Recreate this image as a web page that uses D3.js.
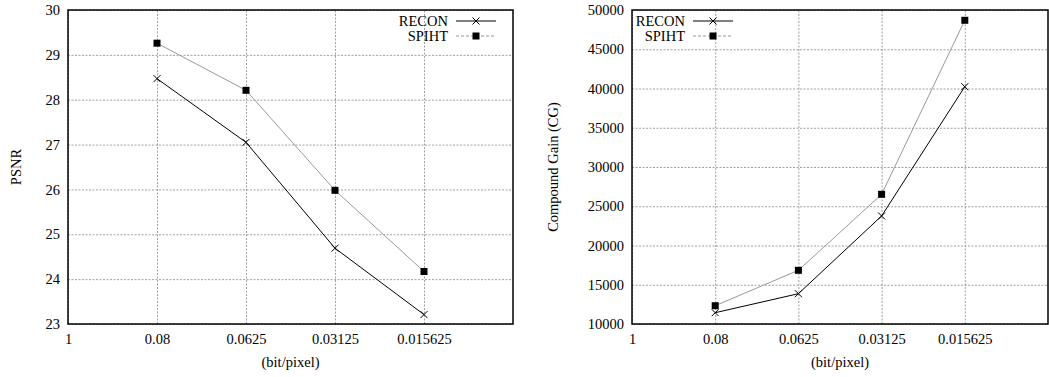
<!DOCTYPE html>
<html>
<head>
<meta charset="utf-8">
<script src="https://cdn.jsdelivr.net/npm/d3@7"></script>
<style>
  body { margin: 0; background: #fff; }
  svg text { font-family: "Liberation Serif", "Times New Roman", "DejaVu Serif", serif; font-size: 14.5px; fill: #000; }
</style>
</head>
<body>
<svg id="chart" width="1049" height="377"></svg>
<script>
// x categories (bit/pixel), first tick is just the axis start
var xLabels = ["1", "0.08", "0.0625", "0.03125", "0.015625"];
var dataIdx = [1, 2, 3, 4];

// PSNR
var psnrRecon = [28.47, 27.05, 24.69, 23.21];
var psnrSpiht = [29.26, 28.21, 25.98, 24.17];
var psnrTicks = [23, 24, 25, 26, 27, 28, 29, 30];

// compound gain
var cgRecon = [11440, 13860, 23760, 40230];
var cgSpiht = [12330, 16840, 26520, 48690];
var cgTicks = [10000, 15000, 20000, 25000, 30000, 35000, 40000, 45000, 50000];

var seriesNames = ["RECON", "SPIHT"];

const svg = d3.select("#chart");

function drawPanel(opt) {
    var x = d3.scaleLinear().domain([0, 5]).range([opt.left, opt.right]);
    var y = d3.scaleLinear().domain([opt.ticks[0], opt.ticks[opt.ticks.length - 1]])
        .range([opt.bottom, opt.top]);

    var g = svg.append("g");

    // grid lines
    g.append("g")
        .attr("transform", `translate(0,${opt.bottom})`)
        .call(d3.axisTop(x).tickValues([0, 1, 2, 3, 4]).tickSize(opt.bottom - opt.top).tickFormat(""))
        .call(g => g.select(".domain").remove())
        .call(g => g.selectAll(".tick line")
            .attr("stroke", "#888")
            .attr("stroke-width", 0.8)
            .attr("stroke-dasharray", "2,1.5"));
    g.append("g")
        .attr("transform", `translate(${opt.left},0)`)
        .call(d3.axisRight(y).tickValues(opt.ticks).tickSize(opt.right - opt.left).tickFormat(""))
        .call(g => g.select(".domain").remove())
        .call(g => g.selectAll(".tick line")
            .attr("stroke", "#888")
            .attr("stroke-width", 0.8)
            .attr("stroke-dasharray", "2,1.5"));

    // tick labels
    g.append("g")
        .attr("transform", `translate(0,${opt.bottom})`)
        .call(d3.axisBottom(x).tickValues([0, 1, 2, 3, 4]).tickSize(0).tickPadding(10)
            .tickFormat(i => xLabels[i]))
        .call(g => g.select(".domain").remove());
    g.append("g")
        .attr("transform", `translate(${opt.left},0)`)
        .call(d3.axisLeft(y).tickValues(opt.ticks).tickSize(0).tickPadding(8).tickFormat(d3.format("d")))
        .call(g => g.select(".domain").remove());

    // border
    g.append("rect")
        .attr("x", opt.left).attr("y", opt.top)
        .attr("width", opt.right - opt.left).attr("height", opt.bottom - opt.top)
        .attr("fill", "none").attr("stroke", "#000").attr("stroke-width", 1.5);

    // axis titles
    g.append("text")
        .attr("x", (opt.left + opt.right) / 2).attr("y", opt.bottom + 43)
        .attr("text-anchor", "middle")
        .text("(bit/pixel)");
    g.append("text")
        .attr("transform", `translate(${opt.ylabelX},${(opt.top + opt.bottom) / 2}) rotate(-90)`)
        .attr("text-anchor", "middle")
        .text(opt.ylabel);

    var line = d3.line()
        .x((d, i) => x(dataIdx[i]))
        .y(d => y(d));

    // SPIHT (grey with squares)
    g.append("path").datum(opt.spiht)
        .attr("d", line).attr("fill", "none")
        .attr("stroke", "#999").attr("stroke-width", 1);
    g.append("g").selectAll("rect")
        .data(opt.spiht)
        .join("rect")
        .attr("x", (d, i) => x(dataIdx[i]) - 3.5)
        .attr("y", d => y(d) - 3.5)
        .attr("width", 7).attr("height", 7)
        .attr("fill", "#000");

    // RECON (black with crosses)
    g.append("path").datum(opt.recon)
        .attr("d", line).attr("fill", "none")
        .attr("stroke", "#000").attr("stroke-width", 1);
    g.append("g").selectAll("path")
        .data(opt.recon)
        .join("path")
        .attr("d", (d, i) => {
            var cx = x(dataIdx[i]), cy = y(d), r = 3.5;
            return `M${cx - r},${cy - r}L${cx + r},${cy + r}M${cx - r},${cy + r}L${cx + r},${cy - r}`;
        })
        .attr("stroke", "#000").attr("stroke-width", 1);

    // legend
    var leg = g.append("g");
    seriesNames.forEach(function (name, k) {
        var ly = opt.legY + k * 15;
        leg.append("text")
            .attr("x", opt.legX).attr("y", ly + 5)
            .attr("text-anchor", "end").text(name);
        leg.append("line")
            .attr("x1", opt.legX + 8).attr("x2", opt.legX + 48)
            .attr("y1", ly).attr("y2", ly)
            .attr("stroke", k == 0 ? "#000" : "#999")
            .attr("stroke-dasharray", k == 0 ? null : "3,2");
        var mx = opt.legX + 28;
        if (k == 0) {
            leg.append("path")
                .attr("d", `M${mx - 3.5},${ly - 3.5}L${mx + 3.5},${ly + 3.5}M${mx - 3.5},${ly + 3.5}L${mx + 3.5},${ly - 3.5}`)
                .attr("stroke", "#000");
        } else {
            leg.append("rect")
                .attr("x", mx - 3.5).attr("y", ly - 3.5)
                .attr("width", 7).attr("height", 7).attr("fill", "#000");
        }
    });
}

drawPanel({
    left: 68, right: 513, top: 10, bottom: 324,
    ticks: psnrTicks, recon: psnrRecon, spiht: psnrSpiht,
    ylabel: "PSNR", ylabelX: 21,
    legX: 448, legY: 21
});

drawPanel({
    left: 632, right: 1048, top: 10, bottom: 324,
    ticks: cgTicks, recon: cgRecon, spiht: cgSpiht,
    ylabel: "Compound Gain (CG)", ylabelX: 558,
    legX: 685, legY: 21
});
</script>
</body>
</html>
